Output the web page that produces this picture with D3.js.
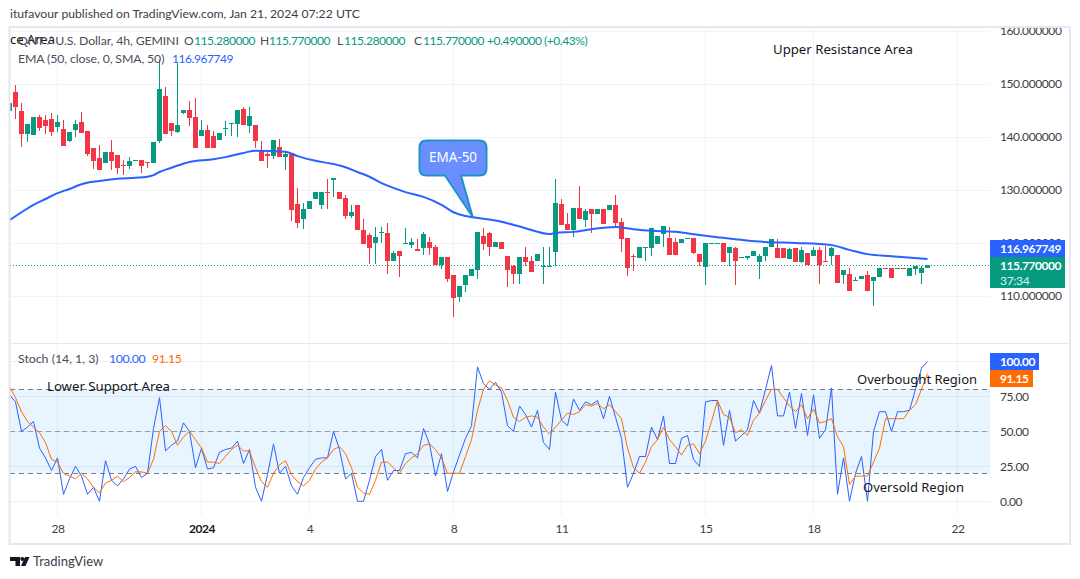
<!DOCTYPE html>
<html><head><meta charset="utf-8">
<script src="https://cdn.jsdelivr.net/npm/d3@7"></script>
<style>html,body{margin:0;padding:0;background:#fff;overflow:hidden}svg{display:block}text{font-family:"Noto Sans",sans-serif}text.ui,.ui text{font-family:Lato,sans-serif}</style>
</head><body><svg id="c" width="1080" height="579"></svg>
<script>
const openV=[144.9,148.5,144.9,140.6,140.4,143.8,143.2,143.4,141.9,141.5,
139.2,141.3,142.8,141.1,137.9,136.0,135.1,137.2,136.6,134.7,
134.5,135.5,135.7,135.3,135.1,139.2,147.7,142.6,140.9,144.5,
145.1,143.8,140.2,141.3,140.2,139.4,141.5,142.5,142.5,145.3,
142.1,142.3,137.4,136.8,136.4,138.1,136.2,137.0,127.4,124.5,
126.4,128.3,127.2,129.6,131.9,129.6,128.5,125.1,127.2,122.5,
121.5,120.0,121.9,121.9,116.6,118.5,119.8,119.6,118.9,119.1,
120.2,119.2,115.8,117.4,114.0,109.8,112.1,113.8,114.9,121.3,
121.9,119.2,120.2,117.5,115.7,114.2,117.4,116.6,116.6,115.5,
115.5,118.3,127.4,123.6,122.5,126.6,124.3,126.4,125.5,126.4,
126.2,127.2,124.0,120.9,117.5,117.2,119.1,119.1,119.8,121.7,
120.9,120.2,120.0,120.8,120.9,117.9,115.5,119.8,119.8,120.0,
118.1,119.1,117.2,117.2,117.5,116.4,117.5,119.2,119.1,119.1,
117.0,119.1,116.4,118.1,117.5,118.7,116.6,117.5,117.7,114.0,
114.2,112.8,113.2,114.0,112.8,113.6,115.3,115.3,115.1,115.3,
113.8,115.1,114.3,115.28];
const highV=[146.4,149.8,146.4,142.5,143.8,144.2,144.2,144.5,144.2,143.2,
140.9,143.2,144.7,141.1,137.9,138.5,137.2,139.4,136.6,135.7,
136.2,135.7,135.7,135.3,139.1,154.5,149.4,142.6,154.0,145.1,
146.8,147.4,143.2,142.3,141.1,140.8,143.0,142.6,145.1,145.7,
145.7,142.3,139.2,137.4,139.4,139.6,137.4,137.0,130.4,127.5,
127.9,129.6,129.6,132.1,132.3,129.6,129.1,127.2,127.2,124.5,
121.9,123.0,123.0,123.8,118.5,118.5,122.8,120.9,120.8,122.1,
121.1,119.6,117.4,117.4,114.0,111.9,114.0,115.1,122.1,122.8,
122.1,120.2,120.2,117.5,115.8,117.4,119.2,117.5,117.9,119.2,
119.2,132.1,128.3,125.7,126.6,130.8,126.4,126.4,126.4,126.4,
127.2,129.1,124.7,120.9,117.9,119.2,119.2,122.8,121.3,123.2,
123.0,120.9,120.8,120.9,120.9,117.9,120.0,120.0,120.0,120.0,
119.2,119.2,117.4,117.5,118.5,117.9,119.2,120.8,120.8,119.1,
119.1,119.1,119.2,118.1,119.2,119.2,119.4,119.2,117.7,114.9,
115.3,113.6,113.8,114.7,113.6,115.3,115.3,115.3,115.3,115.3,
115.3,115.7,115.7,115.77];
const lowV=[144.9,143.4,138.1,139.1,140.4,141.1,140.6,140.2,140.9,138.3,
139.1,140.0,140.8,136.4,134.0,133.8,135.1,133.8,133.0,132.8,
134.0,135.5,133.2,134.2,135.1,138.9,140.6,140.2,140.8,144.3,
142.1,137.9,140.2,137.9,137.9,139.4,140.2,140.2,140.0,142.3,
140.8,137.9,135.5,134.2,135.8,136.2,133.8,124.2,122.8,122.6,
126.4,128.3,126.4,126.4,128.7,128.3,124.5,124.7,122.5,119.8,
116.0,116.0,120.0,114.2,116.6,113.6,119.8,119.1,118.5,117.7,
117.7,115.8,115.1,112.6,106.0,108.9,110.8,113.8,113.2,118.7,
117.5,119.2,118.9,111.7,112.3,112.3,115.7,114.5,116.6,112.3,
115.5,115.7,123.4,122.5,121.1,124.5,123.0,121.9,125.5,123.6,
126.2,123.0,118.3,113.8,114.7,117.2,116.6,117.5,119.8,119.2,
117.7,117.7,120.0,120.8,117.9,115.7,112.1,119.8,119.8,116.4,
115.7,112.1,117.2,116.8,117.5,113.2,116.6,119.2,117.2,117.2,
117.0,116.4,116.2,115.8,117.5,112.3,116.4,115.8,112.5,112.3,
110.9,112.8,113.2,110.9,108.1,113.6,115.1,113.4,115.1,115.1,
113.8,114.0,112.3,115.28];
const closeV=[146.4,145.7,140.6,142.5,143.8,141.7,142.1,140.9,142.8,138.3,
140.9,142.5,140.8,136.8,135.5,133.8,137.2,135.5,134.2,134.5,
135.5,135.7,134.5,135.1,139.1,149.1,140.6,141.1,142.3,145.1,
143.6,137.9,141.3,137.9,137.9,140.8,141.7,142.6,145.1,142.3,
144.0,139.2,135.5,136.4,139.4,136.2,136.8,126.2,123.8,126.4,
127.9,129.6,129.6,129.4,132.3,128.3,125.1,125.8,122.5,119.8,
119.1,121.1,122.1,116.6,118.1,117.5,120.0,120.2,118.5,121.7,
119.1,115.8,117.4,113.2,109.6,111.9,114.0,115.1,122.1,119.8,
119.2,120.2,118.9,114.9,114.2,117.4,116.4,114.5,117.9,115.7,
115.7,127.5,123.4,122.5,126.6,124.5,126.0,125.5,126.4,123.6,
127.2,123.8,120.8,115.3,117.4,119.2,119.2,122.8,121.3,123.2,
117.7,117.7,120.8,120.9,118.1,116.4,120.0,120.0,120.0,116.4,
119.2,116.6,117.4,117.5,118.5,117.5,119.2,120.8,117.2,117.2,
118.9,116.4,118.7,115.8,118.7,115.8,116.4,119.1,112.5,114.9,
110.9,113.0,113.8,110.9,113.6,115.3,115.1,113.4,115.3,115.1,
115.3,115.7,115.3,115.77];
const emaBars=[0,2,4,6,8,10,12,15,18,21,23,24,25,27,30,34,36,39,41,46,48,51,54,56,58,60,62,64,66,69,72,74,76,77,82,86,90,91,94,97,101,104,107,111,115,118,122,126,131,137,140,143,147,153];
const emaV=[124.3,125.8,127.2,128.3,129.4,130.2,131.1,131.7,132.1,132.3,132.5,132.8,133.4,134.2,135.3,135.8,136.2,137.0,137.4,137.2,136.4,135.5,134.9,134.3,133.4,132.5,131.3,130.4,129.6,128.7,127.2,125.8,125.1,124.9,124.0,122.8,121.7,121.9,122.1,122.6,123.0,122.6,122.3,122.1,121.5,121.1,120.6,120.2,120.0,119.6,118.7,117.9,117.5,116.97];
const stochK=[76,71,50,53,57,38,31,22,31,5,16,25,18,5,10,0,29,15,11,16,23,25,17,20,52,74,36,40,43,56,
50,24,38,23,24,35,37,38,43,27,37,10,0,19,41,20,25,11,5,17,24,30,31,31,50,37,16,20,0,0,
15,32,37,15,22,22,34,35,31,52,41,18,34,7,21,33,45,54,96,84,80,85,78,54,50,68,62,53,65,42,
37,78,58,54,73,65,71,69,72,59,75,60,45,10,20,32,32,53,44,61,27,27,45,47,30,25,71,72,72,40,
65,43,47,51,72,63,80,97,61,61,78,52,77,47,76,45,51,81,5,31,0,20,32,0,50,64,64,50,64,64,65,80,95,100];
const stochD=[82,74,64,57,53,49,42,30,28,20,18,16,20,16,10,6,13,15,18,14,17,21,21,20,30,50,54,50,40,46,
50,44,38,28,28,27,32,37,40,36,36,24,14,10,20,26,29,19,14,11,15,23,28,31,37,39,34,24,10,6,
5,15,28,28,24,20,27,31,34,40,41,37,31,20,20,20,32,44,65,80,86,83,81,72,60,57,60,61,60,53,
48,53,58,63,62,64,69,68,70,66,69,64,59,38,24,20,28,39,44,53,44,39,33,40,41,34,43,57,72,62,
60,49,51,47,58,63,72,80,80,74,68,64,69,59,66,56,57,59,46,39,12,18,18,18,28,38,59,59,59,59,65,69,80,91.15];
const priceTicks=[110,120,130,140,150,160];
const stochTicks=[0,25,50,75,100];
const timeBars=[8,32,50,74,92,116,134,158];
const timeLabels=["28","2024","4","8","11","15","18","22"];
const UP="#089981",DN="#f23645",BLUE="#2962ff",ORG="#ff6d00",GRID="#f0f3fa",FRAME="#e6e8ee",TXT="#131722",AXT="#3b3e48",LEG="#4a4d57";

const svg=d3.select("#c");
const x=d3.scaleLinear().domain([0,158]).range([9.5,957.5]);
const yP=d3.scaleLinear().domain([110,160]).range([296,31]);
const yS=d3.scaleLinear().domain([0,100]).range([501.3,361.3]);
const L=10,R=990,PT=28,PB=343,ST=344,SB=516;
const defs=svg.append("defs");
defs.append("clipPath").attr("id","pp").append("rect").attr("x",L).attr("y",PT).attr("width",R-L).attr("height",PB-PT);
defs.append("clipPath").attr("id","ps").append("rect").attr("x",L).attr("y",ST).attr("width",R-L).attr("height",SB-ST);
const txt=(s,px,py,o={})=>svg.append("text").attr("class",o.ui?"ui":null).attr("x",px).attr("y",py).attr("font-size",o.size||13).attr("letter-spacing",o.ls||null).attr("fill",o.fill||TXT).attr("font-weight",o.weight||null).attr("text-anchor",o.anchor||null).text(s);

// grid
timeBars.forEach(b=>{[[PT,PB],[ST,SB]].forEach(([a,c])=>svg.append("line").attr("x1",x(b)).attr("x2",x(b)).attr("y1",a).attr("y2",c).attr("stroke",GRID));});
priceTicks.forEach(v=>svg.append("line").attr("x1",L).attr("x2",R).attr("y1",Math.round(yP(v))+.5).attr("y2",Math.round(yP(v))+.5).attr("stroke",GRID));

// stochastic band + grid
svg.append("rect").attr("x",L).attr("width",R-L).attr("y",yS(80)).attr("height",yS(20)-yS(80)).attr("fill","#2196f3").attr("fill-opacity",.1);
stochTicks.forEach(v=>svg.append("line").attr("x1",L).attr("x2",R).attr("y1",Math.round(yS(v))+.5).attr("y2",Math.round(yS(v))+.5).attr("stroke","#000").attr("stroke-opacity",.055));
[[80,1],[50,.7],[20,1]].forEach(([v,o])=>svg.append("line").attr("x1",L).attr("x2",R).attr("y1",Math.round(yS(v))+.5).attr("y2",Math.round(yS(v))+.5).attr("stroke","#787b86").attr("stroke-opacity",o).attr("stroke-dasharray","5 4"));

// candles
const pane=svg.append("g").attr("clip-path","url(#pp)");
const idx=d3.range(closeV.length);
const col=i=>closeV[i]>=openV[i]?UP:DN;
pane.selectAll(".w").data(idx).join("line").attr("x1",i=>x(i)).attr("x2",i=>x(i))
 .attr("y1",i=>Math.round(yP(highV[i]))).attr("y2",i=>Math.round(yP(lowV[i]))).attr("stroke",col);
pane.selectAll(".b").data(idx).join("rect").attr("x",i=>x(i)-2.5).attr("width",5)
 .attr("y",i=>Math.round(yP(Math.max(openV[i],closeV[i]))))
 .attr("height",i=>Math.max(1,Math.round(yP(Math.min(openV[i],closeV[i])))-Math.round(yP(Math.max(openV[i],closeV[i])))))
 .attr("fill",col);
// last price line
const lastY=Math.round(yP(closeV[closeV.length-1]))+.5;
pane.append("line").attr("x1",L).attr("x2",R).attr("y1",lastY).attr("y2",lastY).attr("stroke",UP).attr("stroke-dasharray","1 2");
// EMA
pane.append("path").attr("d",d3.line().x((d,i)=>x(emaBars[i])).y(d=>yP(d)).curve(d3.curveMonotoneX)(emaV)).attr("fill","none").attr("stroke",BLUE).attr("stroke-width",2);

// stochastic lines
const sp=svg.append("g").attr("clip-path","url(#ps)");
const ln=d3.line().x((d,i)=>x(i)).y(d=>yS(d));
sp.append("path").attr("d",ln(stochK)).attr("fill","none").attr("stroke",BLUE).attr("stroke-width",1);
sp.append("path").attr("d",ln(stochD)).attr("fill","none").attr("stroke",ORG).attr("stroke-width",1);

// axes
const ax1=svg.append("g").attr("class","ui").attr("transform","translate(1000,0)").call(d3.axisRight(yP).tickValues(priceTicks).tickSize(0).tickPadding(0).tickFormat(d=>d3.format(".6f")(d)));
const ax2=svg.append("g").attr("class","ui").attr("transform","translate(1000,0)").call(d3.axisRight(yS).tickValues(stochTicks).tickSize(0).tickPadding(0).tickFormat(d=>d3.format(".2f")(d)));
const ax3=svg.append("g").attr("class","ui").attr("transform","translate(0,524)").call(d3.axisBottom(x).tickValues(timeBars).tickSize(0).tickPadding(0).tickFormat((d,i)=>timeLabels[i]));
[ax1,ax2,ax3].forEach(a=>{a.select(".domain").remove();a.selectAll("text").attr("font-size",12).attr("letter-spacing",-.4).attr("fill",AXT).attr("font-family",null);});
ax3.selectAll("text").filter((d,i)=>timeLabels[i]==="2024").attr("font-weight",700).attr("fill",TXT);

// frame
svg.append("rect").attr("x",9.5).attr("y",27).attr("width",1060.5).attr("height",517).attr("fill","none").attr("stroke",FRAME).attr("stroke-width",2);
svg.append("line").attr("x1",10).attr("x2",1070).attr("y1",343.5).attr("y2",343.5).attr("stroke",FRAME);

// drawn annotations
txt("Upper Resistance Area",773,54,{size:13.2});
txt("Lower Support Area",47,391,{size:13.2});
txt("Overbought Region",857,384);
txt("Oversold Region",863,492);
txt("ce Area",10,44);

// callout
const cBar=77.2,cTip=yP(emaV[33]);
const bx=419.5,by=140.5,bw=67,bh=35,r=7;
svg.append("path").attr("d",`M${bx+r} ${by}H${bx+bw-r}Q${bx+bw} ${by} ${bx+bw} ${by+r}V${by+bh-r}Q${bx+bw} ${by+bh} ${bx+bw-r} ${by+bh}H461L${x(cBar)} ${cTip}L445 ${by+bh}H${bx+r}Q${bx} ${by+bh} ${bx} ${by+bh-r}V${by+r}Q${bx} ${by} ${bx+r} ${by}Z`)
 .attr("fill","#6b8eff").attr("stroke","#1f93c6").attr("stroke-width",2).attr("stroke-linejoin","round");
txt("EMA-50",453,161.5,{size:13.5,fill:"#fff",anchor:"middle"});

// legend
const U={ui:1,size:12.3,fill:LEG,ls:-.12};
txt("QNT / U.S. Dollar, 4h, GEMINI",18,45,U);
[["O",184,LEG],["115.280000",194,UP],["H",260,LEG],["115.770000",269,UP],["L",337,LEG],["115.280000",344,UP],["C",414,LEG],["115.770000",423,UP],["+0.490000 (+0.43%)",487,UP]].forEach(([s,px,c])=>txt(s,px,45,{ui:1,size:12,fill:c,ls:-.45}));
txt("EMA (50, close, 0, SMA, 50)",18,63,U);
txt("116.967749",172,63,{ui:1,size:12,fill:BLUE,ls:-.45});
txt("Stoch (14, 1, 3)",18,363,{ui:1,size:12.3,fill:LEG});
txt("100.00",109,363,{ui:1,size:12.3,fill:BLUE,ls:-.4});
txt("91.15",152,363,{ui:1,size:12.3,fill:ORG,ls:-.4});

// header + footer
txt("itufavour published on TradingView.com, Jan 21, 2024 07:22 UTC",10,18,{ui:1,size:12.2,fill:AXT});
svg.append("path").attr("d","M10 557H20V566H15.5V561H10Z").attr("fill",TXT);
svg.append("circle").attr("cx",22.3).attr("cy",559).attr("r",2).attr("fill",TXT);
svg.append("path").attr("d","M25 557H29.5L25.5 566H21Z").attr("fill",TXT);
txt("TradingView",33,566,{ui:1,fill:AXT});

// price labels
const tag=(c,a,w,t,h)=>svg.append("rect").attr("x",a).attr("y",t).attr("width",w).attr("height",h).attr("fill",c);
const T={ui:1,fill:"#fff",size:12,weight:700,ls:-.45};
tag(BLUE,990,75,240,17);
txt("116.967749",1000,253,T);
tag(UP,990,75,257,31);
txt("115.770000",1000,270,T);
txt("37:34",1000,285,{ui:1,fill:"#dff3ee",size:12,ls:-.3});
tag(BLUE,990,49,353,17);
txt("100.00",1000,366,T);
tag(ORG,990,43,370,17);
txt("91.15",1000,383,T);
</script></body></html>
